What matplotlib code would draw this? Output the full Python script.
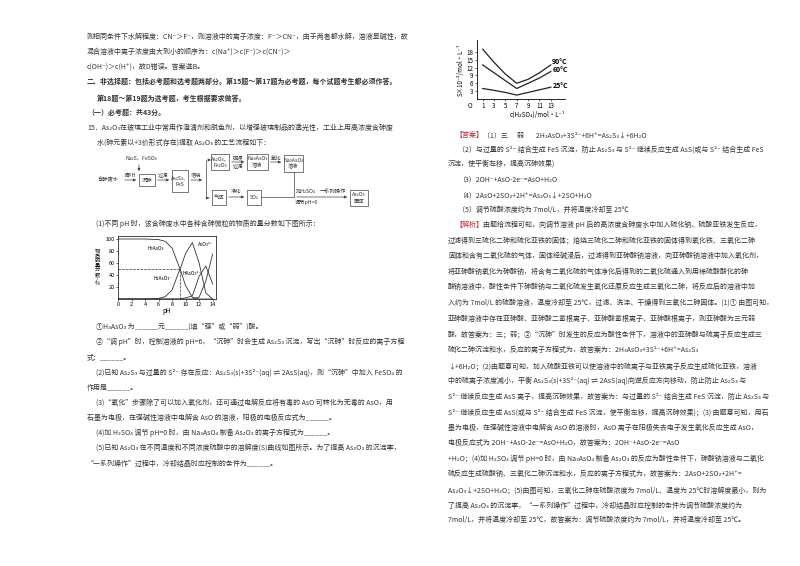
import matplotlib
matplotlib.use("Agg")
import matplotlib.pyplot as plt
import numpy as np
from matplotlib.patches import Rectangle

plt.rcParams['font.family'] = ['Noto Sans CJK SC', 'DejaVu Sans']

# --- data: speciation chart ---
ph = [0, 2, 4, 6, 7, 8, 9, 9.2, 10, 11, 12, 13, 14]
h3aso3 = [100, 100, 100, 99, 96, 85, 55, 50, 22, 3, 0, 0, 0]
h2aso3 = [0, 0, 0, 1, 4, 15, 45, 50, 76, 94, 60, 10, 0]
haso3 = [0, 0, 0, 0, 0, 0, 0, 0, 2, 5, 38, 55, 25]
aso3 = [0, 0, 0, 0, 0, 0, 0, 0, 0, 0, 3, 30, 75]
ph_ticks = [0, 2, 4, 6, 8, 10, 12, 14]
frac_ticks = [20, 40, 60, 80, 100]

# --- data: solubility chart ---
conc = [1, 3, 5, 7, 9, 11, 13]
s90 = [19, 14, 9.5, 6, 7.5, 10, 13]
s60 = [13, 10, 7, 4, 6, 8, 10.5]
s25 = [4, 3.3, 2.5, 1.5, 2.5, 3.5, 4.5]
s_ticks = [3, 6, 9, 12, 15, 18]
c_ticks = [1, 3, 5, 7, 9, 11, 13]

W, H = 800, 566
fig = plt.figure(figsize=(8, 5.66), dpi=100)
ax = fig.add_axes([0, 0, 1, 1])
ax.set_xlim(0, W); ax.set_ylim(H, 0); ax.axis('off')
FS = 5
C = '#333333'

def t(x, y, s, **kw):
    kw.setdefault('fontsize', FS); kw.setdefault('color', C)
    ax.text(x, y, s, va='center', ha=kw.pop('ha', 'left'), **kw)

left = [
 (87, 37, "则相同条件下水解程度：CN⁻＞F⁻，则溶液中的离子浓度：F⁻＞CN⁻，由于两者都水解，溶液显碱性，故", {}),
 (87, 52, "混合溶液中离子浓度由大到小的顺序为：c(Na⁺)＞c(F⁻)＞c(CN⁻)＞", {}),
 (87, 67, "c(OH⁻)＞c(H⁺)，故D错误。答案选B。", {}),
 (87, 81, "二、非选择题：包括必考题和选考题两部分。第15题～第17题为必考题，每个试题考生都必须作答。", {'weight': 'bold'}),
 (97, 98, "第18题～第19题为选考题，考生根据要求做答。", {'weight': 'bold'}),
 (87, 112, "（一）必考题：共43分。", {'weight': 'bold'}),
 (87, 128, "15．As₂O₃在玻璃工业中常用作澄清剂和脱色剂，以增强玻璃制品的透光性，工业上用高浓度含砷废", {}),
 (97, 143, "水(砷元素以+3价形式存在)提取 As₂O₃ 的工艺流程如下：", {}),
 (96, 224, "(1)不同 pH 时，该含砷废水中各种含砷微粒的物质的量分数如下图所示：", {}),
 (96, 327, "①H₃AsO₃ 为______元______(填“强”或“弱”)酸。", {}),
 (96, 342, "②“调 pH”时，控制溶液的 pH=6，“沉砷”时会生成 As₂S₃ 沉淀，写出“沉砷”时反应的离子方程", {}),
 (87, 358, "式：______。", {}),
 (96, 373, "(2)已知 As₂S₃ 与过量的 S²⁻ 存在反应：As₂S₃(s)+3S²⁻(aq) ⇌ 2AsS(aq)，则“沉砷”中加入 FeSO₄ 的", {}),
 (87, 388, "作用是______。", {}),
 (96, 403, "(3)“氧化”步骤除了可以加入氧化剂，还可通过电解反应将有毒的 AsO 可转化为无毒的 AsO，用", {}),
 (87, 418, "石墨为电极，在强碱性溶液中电解含 AsO 的溶液，阳极的电极反应式为______。", {}),
 (96, 433, "(4)加 H₂SO₄ 调节 pH=0 时，由 Na₃AsO₄ 制备 As₂O₃ 的离子方程式为______。", {}),
 (96, 448, "(5)已知 As₂O₃ 在不同温度和不同浓度硫酸中的溶解度(S)曲线如图所示。为了提高 As₂O₃ 的沉淀率，", {}),
 (87, 464, "“一系列操作”过程中，冷却结晶时应控制的条件为______。", {}),
]
for x, y, s, kw in left:
    t(x, y, s, **kw)

right = [
 (458, 150, "（2）与过量的 S²⁻ 结合生成 FeS 沉淀，防止 As₂S₃ 与 S²⁻ 继续反应生成 AsS(或与 S²⁻ 结合生成 FeS"),
 (448, 164, "沉淀，使平衡左移，提高沉砷效果)"),
 (458, 180, "（3）2OH⁻+AsO-2e⁻=AsO+H₂O"),
 (458, 195, "（4）2AsO+2SO₂+2H⁺=As₂O₃↓+2SO+H₂O"),
 (458, 210, "（5）调节硫酸浓度约为 7mol/L，并将温度冷却至 25℃"),
 (448, 240, "过滤得到三硫化二砷和硫化亚铁的固体；焙烧三硫化二砷和硫化亚铁的固体得到氧化铁、三氧化二砷"),
 (448, 256, "固体和含有二氧化硫的气体，固体经碱浸后，过滤得到亚砷酸钠溶液，向亚砷酸钠溶液中加入氧化剂，"),
 (448, 272, "将亚砷酸钠氧化为砷酸钠，将含有二氧化硫的气体净化后得到的二氧化硫通入到用稀硫酸酸化的砷"),
 (448, 287, "酸钠溶液中，酸性条件下砷酸钠与二氧化硫发生氧化还原反应生成三氧化二砷，将反应后的溶液中加"),
 (448, 303, "入约为 7mol/L 的硫酸溶液，温度冷却至 25℃，过滤、洗涤、干燥得到三氧化二砷固体。(1)① 由图可知，"),
 (448, 319, "亚砷酸溶液中存在亚砷酸、亚砷酸二氢根离子、亚砷酸氢根离子、亚砷酸根离子，则亚砷酸为三元弱"),
 (448, 334, "酸，故答案为：三；弱；②“沉砷”时发生的反应为酸性条件下，溶液中的亚砷酸与硫离子反应生成三"),
 (448, 350, "硫化二砷沉淀和水，反应的离子方程式为，故答案为：2H₃AsO₃+3S²⁻+6H⁺=As₂S₃"),
 (448, 366, "↓+6H₂O；(2)由题意可知，加入硫酸亚铁可以使溶液中的硫离子与亚铁离子反应生成硫化亚铁，溶液"),
 (448, 381, "中的硫离子浓度减小，平衡 As₂S₃(s)+3S²⁻(aq) ⇌ 2AsS(aq)向逆反应方向移动，防止防止 As₂S₃ 与"),
 (448, 397, "S²⁻ 继续反应生成 AsS 离子，提高沉砷效果，故答案为：与过量的 S²⁻ 结合生成 FeS 沉淀，防止 As₂S₃ 与"),
 (448, 412, "S²⁻ 继续反应生成 AsS(或与 S²⁻ 结合生成 FeS 沉淀，使平衡左移，提高沉砷效果)；(3) 由题意可知，用石"),
 (448, 428, "墨为电极，在强碱性溶液中电解含 AsO 的溶液时，AsO 离子在阳极失去电子发生氧化反应生成 AsO，"),
 (448, 443, "电极反应式为 2OH⁻+AsO-2e⁻=AsO+H₂O，故答案为：2OH⁻+AsO-2e⁻=AsO"),
 (448, 459, "+H₂O；(4)加 H₂SO₄ 调节 pH=0 时，由 Na₃AsO₄ 制备 As₂O₃ 的反应为酸性条件下，砷酸钠溶液与二氧化"),
 (448, 474, "硫反应生成硫酸钠、三氧化二砷沉淀和水，反应的离子方程式为，故答案为：2AsO+2SO₂+2H⁺="),
 (448, 490, "As₂O₃↓+2SO+H₂O；(5)由图可知，三氧化二砷在硫酸浓度为 7mol/L、温度为 25℃时溶解度最小，则为"),
 (448, 506, "了提高 As₂O₃ 的沉淀率，“一系列操作”过程中，冷却结晶时应控制的条件为调节硫酸浓度约为"),
 (448, 520, "7mol/L，并将温度冷却至 25℃，故答案为：调节硫酸浓度约为 7mol/L，并将温度冷却至 25℃。"),
]
for x, y, s in right:
    t(x, y, s)
t(455, 135, "【答案】", color='#d0202a')
t(483, 135, "（1）三      弱        2H₃AsO₃+3S²⁻+6H⁺=As₂S₃↓+6H₂O")
t(455, 225, "【解析】", color='#d0202a')
t(483, 225, "由题给流程可知，向调节溶液 pH 后的高浓度含砷废水中加入硫化钠、硫酸亚铁发生反应，")

# --- flow chart ---
lw = 0.5
def box(x0, y0, x1, y1, lines):
    ax.add_patch(Rectangle((x0, y0), x1 - x0, y1 - y0, fill=False, lw=lw, ec='#444'))
    n = len(lines)
    for i, s in enumerate(lines):
        yy = (y0 + y1) / 2 + (i - (n - 1) / 2) * 6.5
        t((x0 + x1) / 2, yy, s, ha='center', fontsize=3.8)
def arr(x0, y0, x1, y1):
    ax.annotate('', xy=(x1, y1), xytext=(x0, y0),
                arrowprops=dict(arrowstyle='-|>', lw=lw, color='#444', mutation_scale=4))
def lbl(x, y, s):
    t(x, y, s, ha='center', fontsize=3.8)

t(98, 180, "含砷废水", fontsize=3.8)
arr(122, 180, 139, 180); lbl(130, 175, "调PH")
box(139, 174, 155, 186, ["沉砷"])
lbl(141, 158, "Na₂S、FeSO₄"); arr(139, 162, 139, 174)
arr(155, 180, 172, 180); lbl(163, 175, "过滤")
box(172, 170, 188, 192, ["As₂S₃、", "FeS"])
arr(188, 180, 205, 180); lbl(196, 175, "焙烧")
ax.plot([206, 206], [160, 198], lw=lw, color='#444')
arr(206, 160, 211, 160); arr(206, 198, 212, 198)
box(211, 154, 229, 170, ["As₂O₃、", "Fe₂O₃"])
lbl(238, 158, "碱浸"); lbl(238, 166, "过滤"); arr(229, 162, 247, 162)
box(247, 154, 268, 170, ["Na₃AsO₃", "溶液"])
arr(268, 162, 284, 162); lbl(276, 158, "氧化")
box(284, 155, 303, 172, ["Na₃AsO₄", "溶液"])
ax.plot([294, 294], [172, 197], lw=lw, color='#444')
box(212, 190, 226, 205, ["气体"])
arr(226, 197, 247, 197); lbl(236, 191, "净化")
box(247, 190, 261, 205, ["SO₂"])
ax.plot([261, 294], [197, 197], lw=lw, color='#444')
arr(294, 197, 350, 197)
lbl(306, 191, "加H₂SO₄"); lbl(306, 202, "调节pH=0")
lbl(333, 191, "一系列操作")
box(350, 190, 368, 206, ["As₂O₃", "固体"])

# --- speciation chart ---
def frac(x0, y0, x1, y1):
    return [x0 / W, 1 - y1 / H, (x1 - x0) / W, (y1 - y0) / H]
a1 = fig.add_axes(frac(118, 236, 216, 299))
for ys in (h3aso3, h2aso3, haso3, aso3):
    a1.plot(ph, ys, color='#333', lw=0.6)
a1.plot([0, 9.2], [50, 50], ls='--', color='#333', lw=0.5)
a1.plot([9.2, 9.2], [0, 50], ls='--', color='#333', lw=0.5)
a1.set_xlim(0, 14.5); a1.set_ylim(0, 105)
a1.set_xticks(ph_ticks); a1.set_yticks(frac_ticks)
a1.tick_params(labelsize=4, length=1.5, width=0.4, pad=1)
for s in a1.spines.values(): s.set_linewidth(0.5)
a1.set_xlabel("pH", fontsize=4.5, labelpad=0)
a1.set_ylabel("物\n质\n的\n量\n分\n数\n/\n%", fontsize=3.8, rotation=0, labelpad=6, va='center', linespacing=0.9)
a1.text(4.3, 82, "H₃AsO₃", fontsize=3.5)
a1.text(5.3, 32, "H₂AsO₃⁻", fontsize=3.5)
a1.text(9.5, 40, "HAsO₃²⁻", fontsize=3.5)
a1.text(11.8, 88, "AsO₃³⁻", fontsize=3.5)

# --- solubility chart ---
a2 = fig.add_axes(frac(477, 40, 565, 99))
a2.plot(conc, s90, color='#222', lw=0.9)
a2.plot(conc, s60, color='#222', lw=0.9)
a2.plot(conc, s25, color='#222', lw=0.9)
a2.set_xlim(0, 15.5); a2.set_ylim(0, 22.5)
a2.set_xticks(c_ticks); a2.set_yticks(s_ticks)
a2.tick_params(labelsize=4.5, length=1.5, width=0.4, pad=1)
for k in ('top', 'right'): a2.spines[k].set_visible(False)
for s in a2.spines.values(): s.set_linewidth(0.6)
a2.text(-0.9, -1.3, "O", fontsize=4.5, style='italic', ha='right', va='top')
a2.text(13.2, 13.2, "90°C", fontsize=5, weight='bold')
a2.text(13.4, 10.2, "60°C", fontsize=5, weight='bold')
a2.text(13.4, 4.3, "25°C", fontsize=5, weight='bold')
a2.set_ylabel("S×10⁻²/mol·L⁻¹", fontsize=4.5, labelpad=1)
a2.set_xlabel("c(H₂SO₄)/mol·L⁻¹", fontsize=4.5, labelpad=0, loc='right')

fig.savefig("out.png", dpi=100, facecolor='white')
